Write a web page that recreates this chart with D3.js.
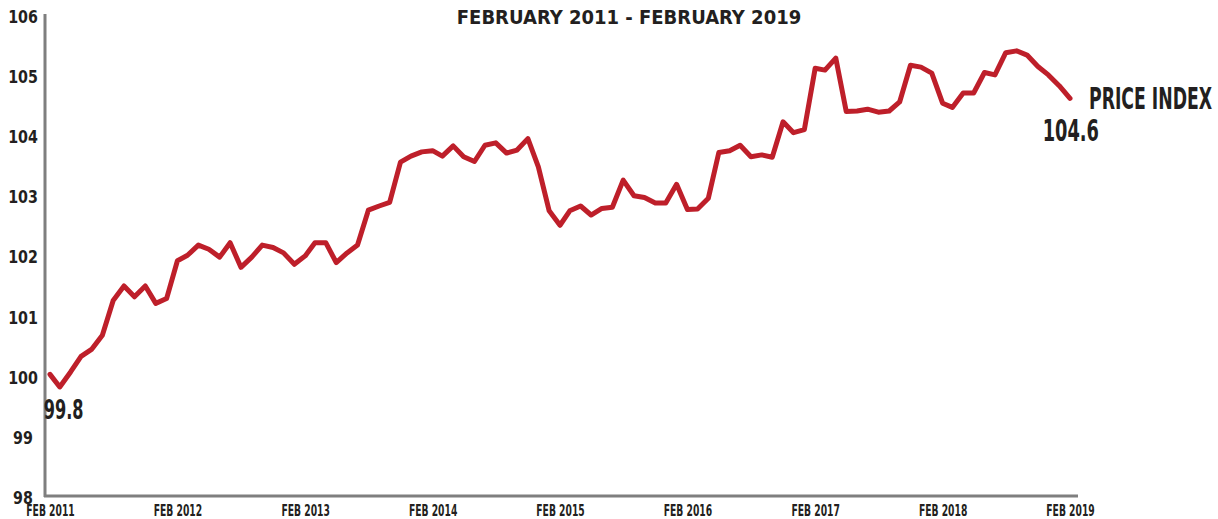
<!DOCTYPE html>
<html>
<head>
<meta charset="utf-8">
<script src="https://cdn.jsdelivr.net/npm/d3@7"></script>
<style>
  body { margin: 0; background: #fff; }
  svg text { font-family: "Liberation Sans Narrow", "DejaVu Sans Condensed", "Roboto", sans-serif; font-weight: bold; fill: #231f20; }
</style>
</head>
<body>
<script>
// monthly price index, Feb 2011 .. Feb 2019
const startMonth = new Date(2011, 1, 1);
const priceIndex = [
  100.04, 99.83, 100.08, 100.34, 100.46, 100.69, 101.27, 101.51, 101.33, 101.51, 101.22, 101.30,
  101.93, 102.02, 102.19, 102.12, 101.99, 102.23, 101.82, 101.99, 102.19, 102.15, 102.06, 101.87,
  102.01, 102.23, 102.23, 101.90, 102.06, 102.19, 102.77, 102.84, 102.90, 103.57, 103.67, 103.74,
  103.76, 103.67, 103.84, 103.66, 103.58, 103.85, 103.89, 103.72, 103.77, 103.96, 103.49, 102.76,
  102.52, 102.76, 102.84, 102.69, 102.80, 102.82, 103.27, 103.01, 102.98, 102.89, 102.89, 103.20,
  102.78, 102.79, 102.97, 103.73, 103.76, 103.85, 103.66, 103.69, 103.65, 104.24, 104.06, 104.11,
  105.13, 105.10, 105.30, 104.41, 104.42, 104.45, 104.40, 104.42, 104.57, 105.18, 105.15, 105.05,
  104.55, 104.48, 104.72, 104.72, 105.06, 105.02, 105.39, 105.42, 105.35, 105.16, 105.02, 104.84,
  104.63
];
const yTicks = [98, 99, 100, 101, 102, 103, 104, 105, 106];
const xTickYears = [2011, 2012, 2013, 2014, 2015, 2016, 2017, 2018, 2019];
const xTickLabels = ["FEB 2011", "FEB 2012", "FEB 2013", "FEB 2014", "FEB 2015", "FEB 2016", "FEB 2017", "FEB 2018", "FEB 2019"];
const titleText = "FEBRUARY 2011 - FEBRUARY 2019";
const seriesName = "PRICE INDEX";

const width = 1218;
const height = 519;

const data = priceIndex.map((v, i) => ({ date: d3.timeMonth.offset(startMonth, i), value: v }));

// squash text horizontally, the original uses a very narrow display face
let squeeze = (sel, sx) => {
  sel.each(function () {
    const t = d3.select(this);
    const x0 = +t.attr("x") || 0;
    t.attr("x", x0 / sx).attr("transform", `scale(${sx},1)`);
  });
};

const svg = d3.select("body").append("svg")
  .attr("width", width)
  .attr("height", height);

const x = d3.scaleTime()
  .domain([startMonth, new Date(2019, 1, 1)])
  .range([50, 1070]);

const y = d3.scaleLinear()
  .domain([98, 106])
  .range([497, 16]);

const axisColor = "#7f7f7f";

// axis lines
svg.append("line")
  .attr("x1", 45).attr("x2", 45)
  .attr("y1", 14).attr("y2", y(98))
  .attr("stroke", axisColor).attr("stroke-width", 3);
svg.append("line")
  .attr("x1", 44).attr("x2", 1078)
  .attr("y1", 496).attr("y2", 496)
  .attr("stroke", axisColor).attr("stroke-width", 3);

// y axis labels
const yAxis = svg.append("g")
  .attr("transform", "translate(45,0)")
  .call(d3.axisLeft(y).tickValues(yTicks).tickSize(0).tickFormat(d3.format("d")));
yAxis.select(".domain").remove();
yAxis.selectAll("text")
  .attr("x", -22)
  .attr("dy", "0.36em")
  .attr("text-anchor", "middle")
  .style("font-size", "18px")
  .call(squeeze, 0.88);

// x axis labels
const xAxis = svg.append("g")
  .attr("transform", "translate(0,496)")
  .call(d3.axisBottom(x)
    .tickValues(xTickYears.map(yr => new Date(yr, 1, 1)))
    .tickSize(0)
    .tickFormat((d, i) => xTickLabels[i]));
xAxis.select(".domain").remove();
xAxis.selectAll("text")
  .attr("y", 20)
  .attr("dy", 0)
  .style("font-size", "16px")
  .call(squeeze, 0.64);

// the line
const line = d3.line()
  .x(d => x(d.date))
  .y(d => y(d.value));

svg.append("path")
  .datum(data)
  .attr("fill", "none")
  .attr("stroke", "#be1f2a")
  .attr("stroke-width", 5)
  .attr("stroke-linejoin", "round")
  .attr("stroke-linecap", "round")
  .attr("d", line);

// title
svg.append("text")
  .attr("x", 629)
  .attr("y", 24)
  .attr("text-anchor", "middle")
  .style("font-size", "20px")
  .text(titleText);

// annotations
const minPt = data[1];
const lastPt = data[data.length - 1];

svg.append("text")
  .attr("x", x(minPt.date) - 16)
  .attr("y", y(minPt.value) + 32)
  .style("font-size", "26px")
  .text(d3.format(".1f")(minPt.value))
  .call(squeeze, 0.69);

svg.append("text")
  .attr("x", x(lastPt.date) + 19)
  .attr("y", y(lastPt.value) + 11)
  .style("font-size", "30px")
  .text(seriesName)
  .call(squeeze, 0.64);

svg.append("text")
  .attr("x", x(lastPt.date) + 29)
  .attr("y", y(lastPt.value) + 43)
  .attr("text-anchor", "end")
  .style("font-size", "30px")
  .text(d3.format(".1f")(lastPt.value))
  .call(squeeze, 0.66);
</script>
</body>
</html>
